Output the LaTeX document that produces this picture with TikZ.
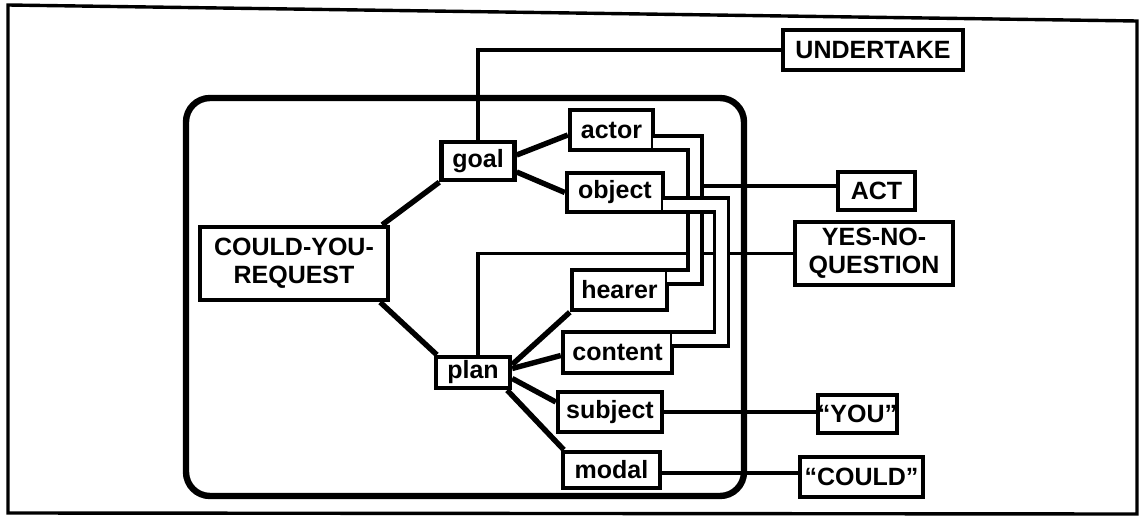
\documentclass[tikz,border=0pt]{standalone}
\usepackage{fontspec}
\setmainfont{Liberation Sans}
\usetikzlibrary{calc}
\begin{document}
\begin{tikzpicture}[x=0.5pt,y=-0.5pt,
  nbox/.style={draw, line width=2.2pt, fill=white, inner sep=0pt, align=center,
    font=\bfseries\fontsize{12.5}{14}\selectfont},
  treeline/.style={line width=2.7pt},
  xlink/.style={line width=1.7pt},
  pipe/.style={draw, line width=1.7pt, double=white, double distance=5.4pt},
  container/.style={line width=3.2pt, rounded corners=12pt},
  outerframe/.style={line width=1.7pt}
]
\useasboundingbox (0,0) rectangle (1145,524);
% outer frame
\draw[outerframe] (8,5) -- (1137,21) -- (1137,514) -- (8,513) -- cycle;
% container
\draw[container] (186,98) rectangle (744,496);

% nodes
\node[nbox, minimum width=94pt, minimum height=36.5pt] (cyr) at (294,263.5) {COULD-YOU-\\REQUEST};
\node[nbox, minimum width=36.5pt, minimum height=19pt] (goal) at (478,161) {goal};
\node[nbox, minimum width=41.5pt, minimum height=20pt] (actor) at (611.5,130) {actor};
\node[nbox, minimum width=48pt, minimum height=19.5pt] (object) at (615,192.5) {object};
\node[nbox, minimum width=47.5pt, minimum height=20pt] (hearer) at (619.5,290) {hearer};
\node[nbox, minimum width=54.5pt, minimum height=20.5pt] (content) at (617.5,352.5) {content};
\node[nbox, minimum width=37pt, minimum height=15.5pt] (plan) at (473,372.5) {plan};
\node[nbox, minimum width=52pt, minimum height=20pt] (subject) at (610,412) {subject};
\node[nbox, minimum width=48.5pt, minimum height=18pt] (modal) at (611.5,470) {modal};
\node[nbox, minimum width=37.5pt, minimum height=19pt] (you) at (857.5,414) {``YOU''};
\node[nbox, minimum width=61.5pt, minimum height=20pt] (could) at (861.5,477) {``COULD''};
\node[nbox, minimum width=90pt, minimum height=20pt] (undertake) at (873,50) {UNDERTAKE};
\node[nbox, minimum width=38.5pt, minimum height=19pt] (act) at (876.5,191) {ACT};
\node[nbox, minimum width=79pt, minimum height=31.5pt] (ynq) at (874,253.5) {YES-NO-\\QUESTION};

% type links
\coordinate (actjoin) at (695,186);
\coordinate (modalfoot) at ($(modal.east)+(0,3)$);
\draw[xlink] (goal.north) |- (undertake.west);
\draw[xlink] ($(plan.north)+(5,0)$) |- (ynq.west);
\draw[xlink] (actjoin) -- (actjoin -| act.west);
\draw[xlink] (subject.east) -- (subject.east -| you.west);
\draw[xlink] (modalfoot) -- (modalfoot -| could.west);

% tree lines
\draw[treeline] ($(cyr.north east)+(-8,0)$) -- (goal.south west);
\draw[treeline] ($(cyr.south east)+(-10,0)$) -- ($(plan.north west)+(3,0)$);
\draw[treeline] ($(goal.east)+(0,-6)$) -- ($(actor.west)+(0,5)$);
\draw[treeline] ($(goal.east)+(0,11)$) -- (object.west);
\draw[treeline] ($(plan.east)+(0,-8)$) -- (hearer.south west);
\draw[treeline] ($(plan.east)+(0,-4)$) -- ($(content.west)+(0,3)$);
\draw[treeline] ($(plan.east)+(0,6)$) -- ($(subject.west)+(0,-10)$);
\draw[treeline] ($(plan.south east)+(-5,0)$) -- ($(modal.north west)+(3,0)$);

% role pipes
\draw[pipe] ($(actor.east)+(-2.6,13)$) -- (695,143) -- (695,277) -- ($(hearer.east)+(-2.6,-13)$);
\draw[pipe] ($(object.east)+(-2.6,12.5)$) -- (721.5,205) -- (721.5,339) -- ($(content.east)+(-2.6,-13.5)$);
\end{tikzpicture}
\end{document}
